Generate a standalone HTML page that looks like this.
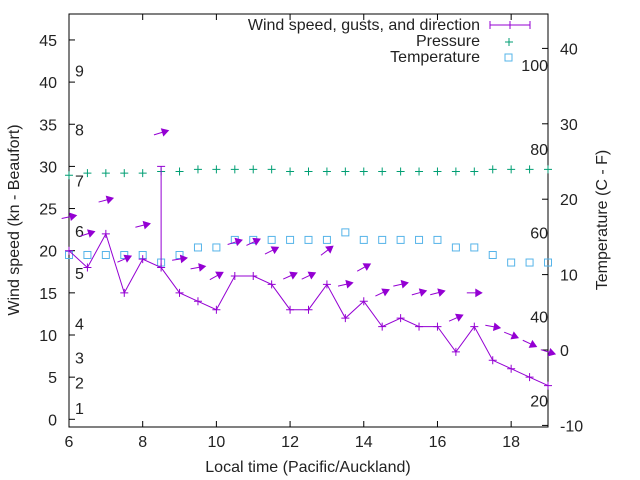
<!DOCTYPE html>
<html><head><meta charset="utf-8"><style>
body{margin:0;background:#fff}
svg{display:block;font-family:"Liberation Sans",sans-serif;font-size:16px;fill:#222}
</style></head><body>
<svg id="chart" width="640" height="480" viewBox="0 0 640 480" xmlns="http://www.w3.org/2000/svg">
<g id="axes"></g>
<g id="marks"></g>
<text x="308" y="472" text-anchor="middle">Local time (Pacific/Auckland)</text>
<text transform="translate(19,220) rotate(-90)" text-anchor="middle">Wind speed (kn - Beaufort)</text>
<text transform="translate(607,220) rotate(-90)" text-anchor="middle">Temperature (C - F)</text>
<g>
<text x="480" y="30" text-anchor="end">Wind speed, gusts, and direction</text>
<line x1="490" y1="25" x2="530" y2="25" stroke="#9400d3"/><line x1="490" y1="21" x2="490" y2="29" stroke="#9400d3"/><line x1="530" y1="21" x2="530" y2="29" stroke="#9400d3"/><line x1="510" y1="21" x2="510" y2="29" stroke="#9400d3"/>
<text x="480" y="46" text-anchor="end">Pressure</text>
<path d="M505 42h8M509 38v8" stroke="#009e73"/>
<text x="480" y="62" text-anchor="end">Temperature</text>
<rect x="505" y="54" width="7" height="7" fill="none" stroke="#56b4e9"/>
</g>
</svg>
<script>
const times=[6,6.5,7,7.5,8,8.5,9,9.5,10,10.5,11,11.5,12,12.5,13,13.5,14,14.5,15,15.5,16,16.5,17,17.5,18,18.5,19];
const wind=[20,18,22,15,19,18,15,14,13,17,17,16,13,13,16,12,14,11,12,11,11,8,11,7,6,5,4];
const gust=[null,null,null,null,null,30,null,null,null,null,null,null,null,null,null,null,null,null,null,null,null,null,null,null,null,null,null];
const dirAngle=[12,18,15,24,14,17,9,10,29,17,25,27,24,25,37,13,29,25,13,16,15,24,0,-10,-22,-25,-17];
const pressure=[28.95,29.2,29.2,29.2,29.2,29.4,29.4,29.65,29.65,29.65,29.65,29.65,29.4,29.4,29.4,29.4,29.4,29.4,29.4,29.4,29.4,29.4,29.4,29.65,29.65,29.65,29.65];
const tempC=[12.6,12.6,12.6,12.6,12.6,11.6,12.6,13.6,13.6,14.6,14.6,14.6,14.6,14.6,14.6,15.6,14.6,14.6,14.6,14.6,14.6,13.6,13.6,12.6,11.6,11.6,11.6];
const xTicks=[6,8,10,12,14,16,18];
const yTicks=[0,5,10,15,20,25,30,35,40,45];
const y2Ticks=[-10,0,10,20,30,40];
const fTicks=[20,40,60,80,100];
const beaufort=[1,2,3,4,5,6,7,8,9];
const beaufortKn=[1,4,7,11,17,22,28,34,41];

const L=69,R=548,T=14,B=427;
const X=t=>L+(t-6)/(19-6)*(R-L);
const Y=v=>419.3-v*8.43;
const Y2=c=>350-c*7.54;
const NS='http://www.w3.org/2000/svg';
function mk(tag,attrs,parent,txt){const e=document.createElementNS(NS,tag);for(const k in attrs)e.setAttribute(k,attrs[k]);if(txt!=null)e.textContent=txt;parent.appendChild(e);return e;}
const ax=document.getElementById('axes'),mg=document.getElementById('marks');
let e=mk('rect',{x:L,y:T,width:R-L,height:B-T,fill:'none',stroke:'#000'},ax);


xTicks.forEach(t=>{
  mk('line',{x1:X(t),y1:B,x2:X(t),y2:B-6,stroke:'#000'},ax);
  mk('line',{x1:X(t),y1:T,x2:X(t),y2:T+6,stroke:'#000'},ax);
  const tx=mk('text',{x:X(t),y:447,'text-anchor':'middle'},ax,String(t));
  
  
});
yTicks.forEach(v=>{
  mk('line',{x1:L,y1:Y(v),x2:L+6,y2:Y(v),stroke:'#000'},ax);
  const tx=mk('text',{x:L-12,y:Y(v)+6,'text-anchor':'end'},ax,String(v));
  
  
});
y2Ticks.forEach(c=>{
  mk('line',{x1:R,y1:Y2(c),x2:R-6,y2:Y2(c),stroke:'#000'},ax);
  const tx=mk('text',{x:R+12,y:Y2(c)+6,'text-anchor':'start'},ax,String(c));
  
  
});
fTicks.forEach(f=>{
  const c=(f-32)*5/9;
  const tx=mk('text',{x:548,y:Y2(c)+6,'text-anchor':'end'},ax,String(f));
  
  
});
beaufort.forEach((b,i)=>{
  const tx=mk('text',{x:75,y:Y(beaufortKn[i])+3,'text-anchor':'start'},ax,String(b));
  
  
});
times.forEach((t,i)=>{
  const p=mk('path',{d:`M${X(t)-4} ${Y(pressure[i])}h8M${X(t)} ${Y(pressure[i])-4}v8`,stroke:'#009e73'},mg);
  
  
});
times.forEach((t,i)=>{
  const r=mk('rect',{x:X(t)-3.5,y:Y2(tempC[i])-3.5,width:7,height:7,fill:'none',stroke:'#56b4e9'},mg);
  
  
});
const pl=mk('polyline',{points:times.map((t,i)=>X(t)+','+Y(wind[i])).join(' '),fill:'none',stroke:'#9400d3'},mg);


times.forEach((t,i)=>{
  const p=mk('path',{d:`M${X(t)-4} ${Y(wind[i])}h8M${X(t)} ${Y(wind[i])-4}v8`,stroke:'#9400d3'},mg);
  
  
  if(gust[i]!=null){
    const g=mk('path',{d:`M${X(t)} ${Y(wind[i])}V${Y(gust[i])}M${X(t)-4} ${Y(gust[i])}h8`,stroke:'#9400d3'},mg);
    
    
  }
  const top=Math.max(wind[i],gust[i]||0)+4;
  const a=dirAngle[i]*Math.PI/180,cx=X(t),cy=Y(top),h=7.5;
  const dx=Math.cos(a),dy=-Math.sin(a);
  const x1=cx-dx*h,y1=cy-dy*h,x2=cx+dx*h,y2=cy+dy*h;
  const hx=x2-dx*6,hy=y2-dy*6,px=-dy*3.5,py=dx*3.5;
  const ar=mk('g',{},mg);
  
  
  mk('line',{x1,y1,x2:hx,y2:hy,stroke:'#9400d3'},ar);
  mk('polygon',{points:`${x2},${y2} ${hx+px},${hy+py} ${hx-px},${hy-py}`,fill:'#9400d3',stroke:'#9400d3'},ar);
});
</script>
</body></html>
